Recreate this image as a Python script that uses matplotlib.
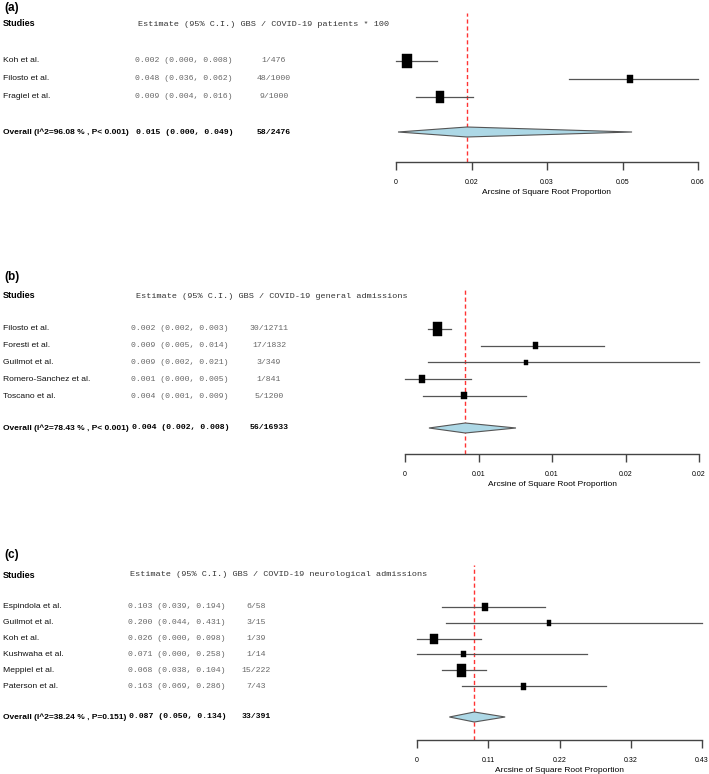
import numpy as np
import matplotlib.pyplot as plt
from matplotlib.patches import Rectangle, Polygon

# ---- panel (a): GBS / COVID-19 patients
a_studies = ["Koh et al.", "Filosto et al.", "Fragiel et al."]
a_est_txt = ["0.002 (0.000, 0.008)", "0.048 (0.036, 0.062)", "0.009 (0.004, 0.016)"]
a_counts = ["1/476", "48/1000", "9/1000"]
a_est = [0.0022, 0.0465, 0.0087]
a_lo = [0.0, 0.0344, 0.0040]
a_hi = [0.0081, 0.060, 0.0153]
a_overall = ["Overall (I^2=96.08 % , P< 0.001)", "0.015 (0.000, 0.049)", "58/2476"]
a_pool = [0.0004, 0.0141, 0.0469]   # lower, centre, upper of diamond
a_ticklabels = ["0", "0.02", "0.03", "0.05", "0.06"]
a_xmax = 0.06

# ---- panel (b): GBS / COVID-19 general admissions
b_studies = ["Filosto et al.", "Foresti et al.", "Guilmot et al.",
             "Romero-Sanchez et al.", "Toscano et al."]
b_est_txt = ["0.002 (0.002, 0.003)", "0.009 (0.005, 0.014)", "0.009 (0.002, 0.021)",
             "0.001 (0.000, 0.005)", "0.004 (0.001, 0.009)"]
b_counts = ["30/12711", "17/1832", "3/349", "1/841", "5/1200"]
b_est = [0.00224, 0.0089, 0.0082, 0.00116, 0.0040]
b_lo = [0.00156, 0.00517, 0.00156, 0.0, 0.0012]
b_hi = [0.00313, 0.01354, 0.020, 0.0045, 0.0082]
b_overall = ["Overall (I^2=78.43 % , P< 0.001)", "0.004 (0.002, 0.008)", "56/16933"]
b_pool = [0.00163, 0.0041, 0.00755]
b_ticklabels = ["0", "0.01", "0.01", "0.02", "0.02"]
b_xmax = 0.02

# ---- panel (c): GBS / COVID-19 neurological admissions
c_studies = ["Espindola et al.", "Guilmot et al.", "Koh et al.",
             "Kushwaha et al.", "Meppiel et al.", "Paterson et al."]
c_est_txt = ["0.103 (0.039, 0.194)", "0.200 (0.044, 0.431)", "0.026 (0.000, 0.098)",
             "0.071 (0.000, 0.258)", "0.068 (0.038, 0.104)", "0.163 (0.069, 0.286)"]
c_counts = ["6/58", "3/15", "1/39", "1/14", "15/222", "7/43"]
c_est = [0.1026, 0.1987, 0.0251, 0.0704, 0.0669, 0.1614]
c_lo = [0.0382, 0.0433, 0.0, 0.0, 0.0377, 0.0683]
c_hi = [0.193, 0.43, 0.0966, 0.256, 0.1036, 0.285]
c_overall = ["Overall (I^2=38.24 % , P=0.151)", "0.087 (0.050, 0.134)", "33/391"]
c_pool = [0.0488, 0.0865, 0.133]
c_ticklabels = ["0", "0.11", "0.22", "0.32", "0.43"]
c_xmax = 0.43

W, H = 709, 774
fig = plt.figure(figsize=(W / 100, H / 100), dpi=100)

SANS = ["Liberation Sans", "DejaVu Sans"]
MONO = ["Liberation Mono", "DejaVu Sans Mono"]


def fx(x):
    return x / W


def fy(y):
    return 1 - y / H


def panel(label, header, studies, est_txt, counts, est, lo, hi, overall, pool,
          ticklabels, xmax, boxes, lay):
    # lay: label y, header y, first row y, row step, overall y, est col x,
    #      count col x, axis x0, x1, axis top, axis y, header x
    ly, hy, r0, dr, oy, ex, cx, x0, x1, ytop, ybot, hx = lay
    fig.text(fx(4), fy(ly), label, fontsize=8.5, fontweight="bold", family=SANS,
             va="center", ha="left")
    fig.text(fx(3), fy(hy), "Studies", fontsize=6.5, fontweight="bold", family=SANS,
             va="center")
    fig.text(fx(hx), fy(hy), header, fontsize=6.1, family=MONO, color="#333333",
             va="center")
    rows = [r0 + i * dr for i in range(len(studies))]
    for y, s, e, c in zip(rows, studies, est_txt, counts):
        fig.text(fx(3), fy(y), s, fontsize=6.1, family=SANS, va="center", color="#111111")
        fig.text(fx(ex), fy(y), e, fontsize=5.9, family=MONO, va="center", color="#666666")
        fig.text(fx(cx), fy(y), c, fontsize=5.9, family=MONO, va="center", ha="center",
                 color="#666666")
    fig.text(fx(3), fy(oy), overall[0], fontsize=6, fontweight="bold", family=SANS,
             va="center")
    fig.text(fx(ex + 1), fy(oy), overall[1], fontsize=5.9, fontweight="bold", family=MONO,
             va="center")
    fig.text(fx(cx), fy(oy), overall[2], fontsize=5.9, fontweight="bold", family=MONO,
             va="center", ha="center")

    ax = fig.add_axes([fx(x0), fy(ybot), (x1 - x0) / W, (ybot - ytop) / H])
    ax.set_xlim(0, xmax)
    ax.set_ylim(ybot, ytop)
    ax.patch.set_alpha(0)
    for sp in ["top", "left", "right"]:
        ax.spines[sp].set_visible(False)
    ax.spines["bottom"].set_color("#444444")
    ax.spines["bottom"].set_linewidth(1.0)
    ax.set_yticks([])
    ax.set_xticks(np.linspace(0, xmax, 5))
    ax.set_xticklabels(ticklabels, fontsize=5, family=SANS)
    ax.tick_params(axis="x", length=6, width=1.0, color="#444444", pad=6)

    ax.axvline(pool[1], color="red", ls=(0, (3, 2)), lw=1.0, alpha=0.8, zorder=1)

    pxw = xmax / (x1 - x0)  # data units per pixel
    for y, e, l, h, (bw, bh) in zip(rows, est, lo, hi, boxes):
        ax.plot([l, h], [y, y], color="#555555", lw=0.9, zorder=2, clip_on=False)
        ax.add_patch(Rectangle((e - bw * pxw / 2, y - bh / 2), bw * pxw, bh,
                               facecolor="black", edgecolor="black", lw=0.3,
                               zorder=3, clip_on=False))
    dh = 5
    ax.add_patch(Polygon([(pool[0], oy), (pool[1], oy - dh), (pool[2], oy),
                          (pool[1], oy + dh)], closed=True, facecolor="#add8e6",
                         edgecolor="#555555", lw=0.8, zorder=3, clip_on=False))
    fig.text(fx((x0 + x1) / 2), fy(ybot + 30), "Arcsine of Square Root Proportion",
             fontsize=6, family=SANS, ha="center", va="center")


panel("(a)", "Estimate (95% C.I.) GBS / COVID-19 patients * 100",
      a_studies, a_est_txt, a_counts, a_est, a_lo, a_hi, a_overall, a_pool,
      a_ticklabels, a_xmax, [(10, 14), (6, 8), (8, 12)],
      (8, 24, 61, 18, 132, 135, 274, 396, 698, 13, 162, 138))

panel("(b)", "Estimate (95% C.I.) GBS / COVID-19 general admissions",
      b_studies, b_est_txt, b_counts, b_est, b_lo, b_hi, b_overall, b_pool,
      b_ticklabels, b_xmax, [(9, 14), (5, 7), (4, 5), (6, 8), (6, 7)],
      (277, 296, 329, 16.75, 428, 131, 269, 405, 699, 289, 454, 136))

panel("(c)", "Estimate (95% C.I.) GBS / COVID-19 neurological admissions",
      c_studies, c_est_txt, c_counts, c_est, c_lo, c_hi, c_overall, c_pool,
      c_ticklabels, c_xmax, [(6, 8), (4, 6), (8, 10), (5, 6), (9, 13), (5, 7)],
      (555, 575, 607, 15.8, 717, 128, 256, 417, 702, 565, 740, 130))

fig.savefig("out.png", dpi=100)
